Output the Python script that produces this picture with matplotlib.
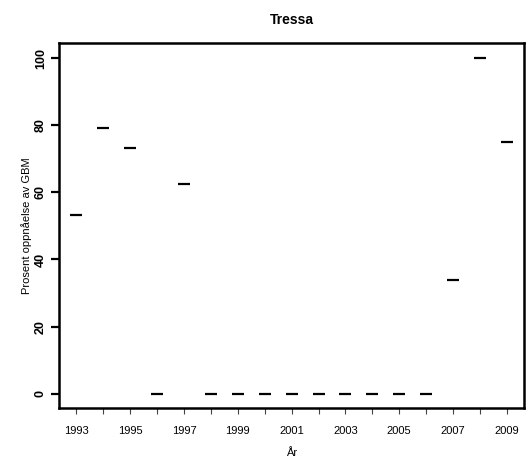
import matplotlib
matplotlib.use("Agg")
import matplotlib.pyplot as plt

plt.rcParams['font.family'] = ['Liberation Sans', 'DejaVu Sans']

years = [1993, 1994, 1995, 1996, 1997, 1998, 1999, 2000, 2001,
         2002, 2003, 2004, 2005, 2006, 2007, 2008, 2009]
values = [53.3, 79.1, 73.1, 0, 62.5, 0, 0, 0, 0,
          0, 0, 0, 0, 0, 33.9, 100, 75.0]
year_labels = [str(y) if y % 2 == 1 else '' for y in years]
y_ticks = [0, 20, 40, 60, 80, 100]

fig = plt.figure(figsize=(5.27, 4.62), dpi=100)
ax = fig.add_axes([0.1125, 0.1175, 0.8818, 0.7888])

ax.plot(years, values, linestyle='none', marker='_', color='black',
        markersize=8.4, markeredgewidth=1.6)

ax.set_xlim(1992.36, 2009.64)
ax.set_ylim(-4.17, 104.4)

ax.set_xticks(years)
ax.set_xticklabels(year_labels, fontsize=8)
ax.set_yticks(y_ticks)
ax.set_yticklabels([str(t) for t in y_ticks], rotation=90, va='center',
                   fontsize=9, fontweight='bold')

ax.tick_params(axis='x', length=4, width=0.8, pad=9, color='#444444')
ax.tick_params(axis='y', length=6, width=1.6, pad=3)

for s in ax.spines.values():
    s.set_linewidth(1.8)

ax.set_title('Tressa', fontsize=10, fontweight='bold', pad=14)
ax.set_xlabel('År', fontsize=8, labelpad=9)
ax.set_ylabel('Prosent oppnåelse av GBM', fontsize=8, labelpad=2)

fig.savefig('out.png', dpi=100)
